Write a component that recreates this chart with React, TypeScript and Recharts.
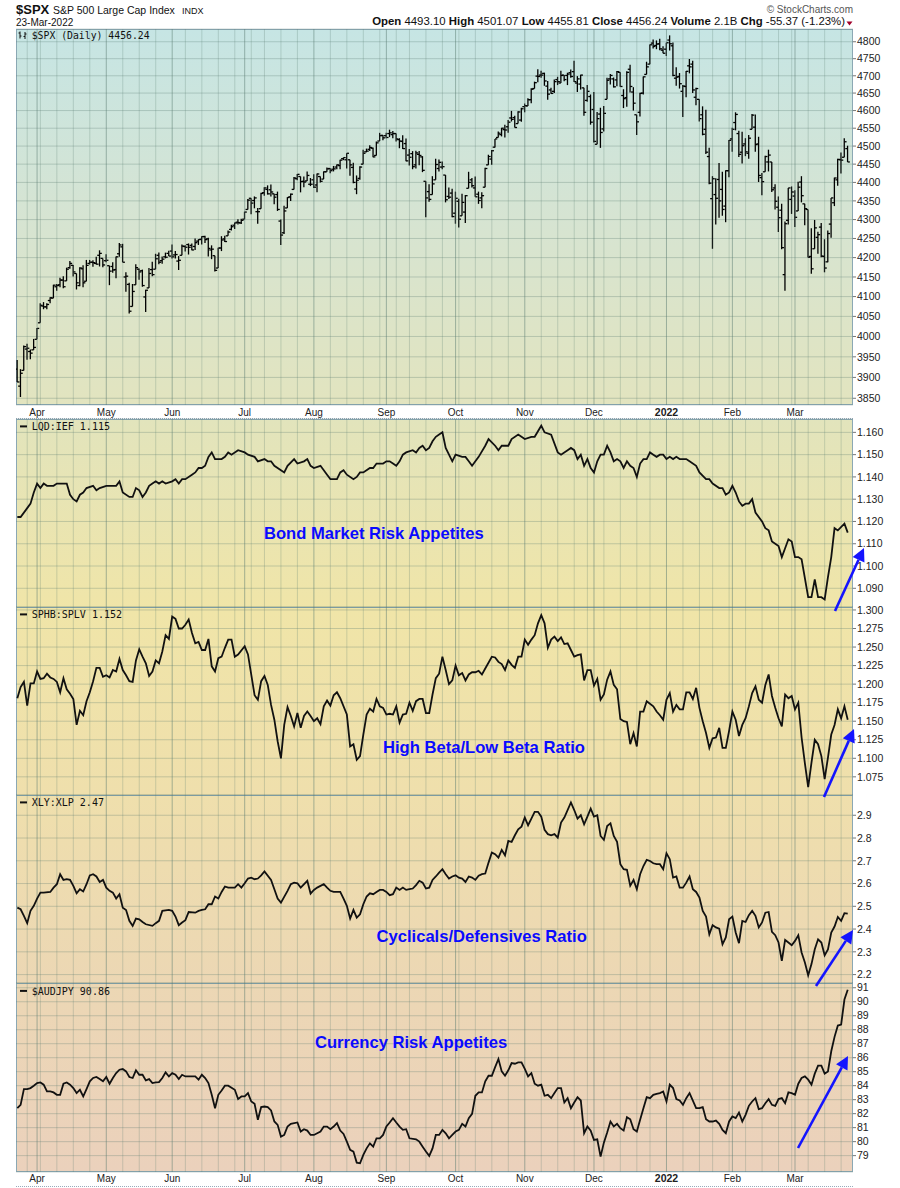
import React from "react";
import { ComposedChart, Bar, Line, XAxis, YAxis, CartesianGrid, ReferenceLine } from "recharts";

const FONT = "'Liberation Sans', Arial, sans-serif";
const MONO = "'DejaVu Sans Mono', monospace";
const GRID = "#587a70";

// trading calendar, 24-Mar-2021 .. 23-Mar-2022
const startDay = "2021-03-24";
const endDay = "2022-03-23";
const holidays = ["2021-04-02", "2021-05-31", "2021-07-05", "2021-09-06", "2021-11-25", "2021-12-24", "2022-01-17", "2022-02-21"];
const monthLabels = ["Apr", "May", "Jun", "Jul", "Aug", "Sep", "Oct", "Nov", "Dec", "2022", "Feb", "Mar"];

// $SPX daily bars, one row per month
const spxOpen = [
  3920, 3879, 3917, 3969, 3963, 3967,
  3993, 4034, 4076, 4074, 4090, 4096, 4125, 4130, 4142, 4140, 4174, 4180, 4159, 4128, 4171, 4139, 4185, 4188, 4185, 4206, 4198,
  4192, 4179, 4177, 4169, 4210, 4228, 4150, 4131, 4075, 4130, 4170, 4166, 4099, 4122, 4169, 4170, 4206, 4192, 4202, 4211,
  4217, 4207, 4191, 4206, 4229, 4234, 4232, 4229, 4243, 4248, 4255, 4249, 4220, 4205, 4173, 4225, 4249, 4257, 4274, 4285, 4293, 4291,
  4301, 4327, 4357, 4351, 4321, 4329, 4372, 4381, 4380, 4369, 4367, 4296, 4265, 4331, 4361, 4381, 4410, 4416, 4403, 4404, 4395,
  4407, 4393, 4416, 4409, 4429, 4438, 4436, 4442, 4446, 4465, 4462, 4462, 4441, 4382, 4411, 4450, 4484, 4491, 4494, 4474, 4514, 4530,
  4529, 4535, 4532, 4535, 4518, 4513, 4507, 4475, 4479, 4448, 4477, 4470, 4403, 4375, 4367, 4407, 4438, 4442, 4420, 4362, 4371,
  4317, 4349, 4310, 4320, 4384, 4407, 4385, 4368, 4358, 4387, 4448, 4464, 4497, 4524, 4532, 4546, 4554, 4579, 4580, 4563, 4573,
  4611, 4613, 4631, 4663, 4699, 4702, 4707, 4670, 4659, 4655, 4689, 4679, 4702, 4701, 4709, 4712, 4679, 4676, 4665, 4629, 4640,
  4603, 4505, 4590, 4548, 4632, 4691, 4691, 4688, 4710, 4643, 4637, 4719, 4653, 4588, 4595, 4650, 4704, 4734, 4796, 4789, 4794, 4775,
  4778, 4805, 4788, 4693, 4698, 4655, 4669, 4729, 4734, 4638, 4632, 4588, 4547, 4471, 4356, 4367, 4408, 4381, 4336, 4432,
  4520, 4566, 4535, 4483, 4506, 4480, 4547, 4553, 4506, 4413, 4429, 4456, 4456, 4385, 4333, 4325, 4156, 4298, 4354,
  4363, 4323, 4401, 4342, 4327, 4203, 4223, 4253, 4280, 4203, 4189, 4288, 4345, 4407, 4462, 4469, 4493,
];
const spxHigh = [
  3942, 3920, 3978, 3982, 3968, 3994,
  4021, 4083, 4086, 4083, 4098, 4130, 4132, 4148, 4152, 4174, 4191, 4181, 4159, 4175, 4180, 4194, 4194, 4193, 4202, 4219, 4198,
  4209, 4179, 4188, 4203, 4238, 4236, 4162, 4135, 4132, 4183, 4172, 4169, 4117, 4173, 4189, 4210, 4213, 4203, 4213, 4218,
  4234, 4217, 4204, 4234, 4232, 4237, 4237, 4250, 4248, 4256, 4257, 4252, 4232, 4205, 4226, 4256, 4257, 4271, 4286, 4292, 4301, 4302,
  4321, 4355, 4357, 4362, 4331, 4372, 4387, 4392, 4394, 4369, 4375, 4300, 4337, 4360, 4370, 4415, 4423, 4416, 4416, 4430, 4412,
  4422, 4424, 4416, 4430, 4441, 4439, 4445, 4449, 4462, 4468, 4480, 4462, 4454, 4419, 4444, 4490, 4493, 4502, 4496, 4513, 4537, 4531,
  4537, 4546, 4542, 4535, 4522, 4530, 4521, 4492, 4486, 4487, 4486, 4472, 4403, 4395, 4417, 4465, 4463, 4457, 4420, 4386, 4383,
  4375, 4356, 4369, 4366, 4429, 4412, 4416, 4375, 4373, 4440, 4476, 4489, 4520, 4541, 4551, 4560, 4573, 4599, 4585, 4598, 4608,
  4620, 4635, 4664, 4683, 4719, 4715, 4709, 4685, 4665, 4689, 4697, 4715, 4702, 4709, 4718, 4744, 4699, 4703, 4665, 4673, 4646,
  4653, 4596, 4608, 4613, 4694, 4705, 4695, 4714, 4710, 4661, 4713, 4732, 4667, 4588, 4651, 4698, 4741, 4792, 4807, 4804, 4809, 4787,
  4797, 4819, 4798, 4725, 4708, 4673, 4714, 4749, 4744, 4665, 4632, 4612, 4602, 4495, 4417, 4411, 4453, 4429, 4433, 4517,
  4551, 4595, 4543, 4540, 4522, 4531, 4590, 4589, 4526, 4426, 4473, 4490, 4456, 4395, 4362, 4342, 4295, 4385, 4389,
  4379, 4402, 4417, 4342, 4327, 4277, 4299, 4268, 4291, 4248, 4271, 4358, 4413, 4465, 4482, 4522, 4501,
];
const spxLow = [
  3889, 3853, 3917, 3943, 3944, 3967,
  3993, 4034, 4068, 4068, 4083, 4096, 4115, 4124, 4121, 4140, 4171, 4151, 4118, 4126, 4124, 4139, 4182, 4176, 4182, 4177, 4175,
  4188, 4129, 4161, 4147, 4202, 4188, 4112, 4057, 4075, 4130, 4143, 4125, 4061, 4122, 4152, 4170, 4183, 4184, 4198, 4204,
  4198, 4198, 4168, 4206, 4216, 4208, 4219, 4220, 4233, 4234, 4238, 4203, 4196, 4164, 4173, 4217, 4241, 4257, 4271, 4275, 4287, 4288,
  4301, 4327, 4314, 4330, 4289, 4329, 4364, 4367, 4362, 4341, 4323, 4233, 4262, 4331, 4350, 4381, 4406, 4373, 4387, 4404, 4390,
  4385, 4373, 4400, 4409, 4429, 4425, 4430, 4436, 4436, 4461, 4438, 4418, 4398, 4368, 4407, 4450, 4483, 4486, 4469, 4474, 4514, 4516,
  4522, 4525, 4522, 4513, 4494, 4492, 4458, 4446, 4436, 4438, 4447, 4428, 4306, 4348, 4367, 4407, 4430, 4436, 4346, 4355, 4306,
  4289, 4279, 4310, 4291, 4384, 4386, 4361, 4342, 4330, 4387, 4448, 4448, 4496, 4524, 4527, 4524, 4537, 4569, 4552, 4563, 4568,
  4595, 4613, 4621, 4663, 4681, 4694, 4671, 4631, 4648, 4650, 4673, 4679, 4684, 4673, 4694, 4682, 4653, 4660, 4585, 4625, 4560,
  4510, 4505, 4495, 4541, 4632, 4675, 4666, 4670, 4668, 4607, 4611, 4652, 4600, 4531, 4583, 4646, 4704, 4734, 4780, 4778, 4775, 4766,
  4758, 4774, 4699, 4671, 4663, 4582, 4638, 4707, 4650, 4615, 4569, 4530, 4478, 4395, 4223, 4287, 4305, 4310, 4293, 4414,
  4484, 4544, 4470, 4452, 4472, 4465, 4547, 4484, 4401, 4365, 4429, 4430, 4374, 4327, 4267, 4222, 4115, 4287, 4315,
  4280, 4323, 4346, 4285, 4200, 4158, 4223, 4210, 4201, 4162, 4188, 4252, 4336, 4391, 4424, 4469, 4456,
];
const spxClose = [
  3889, 3910, 3975, 3971, 3959, 3973,
  4020, 4078, 4074, 4080, 4097, 4129, 4128, 4142, 4125, 4170, 4185, 4163, 4135, 4173, 4135, 4180, 4188, 4187, 4183, 4211, 4181,
  4193, 4165, 4168, 4202, 4233, 4188, 4152, 4063, 4113, 4174, 4163, 4128, 4116, 4159, 4156, 4197, 4188, 4196, 4201, 4204,
  4202, 4208, 4193, 4230, 4227, 4227, 4220, 4239, 4247, 4255, 4247, 4224, 4222, 4167, 4225, 4246, 4242, 4267, 4281, 4291, 4292, 4298,
  4320, 4352, 4344, 4358, 4321, 4370, 4385, 4369, 4374, 4360, 4327, 4259, 4323, 4359, 4368, 4412, 4422, 4402, 4401, 4419, 4395,
  4387, 4423, 4403, 4429, 4437, 4432, 4437, 4448, 4461, 4468, 4480, 4448, 4400, 4406, 4442, 4480, 4486, 4496, 4470, 4509, 4529, 4523,
  4524, 4537, 4535, 4520, 4514, 4493, 4459, 4469, 4443, 4481, 4474, 4433, 4358, 4354, 4396, 4449, 4455, 4443, 4353, 4360, 4308,
  4357, 4301, 4346, 4364, 4400, 4391, 4361, 4351, 4364, 4438, 4471, 4487, 4520, 4536, 4550, 4545, 4567, 4575, 4552, 4596, 4605,
  4614, 4631, 4661, 4680, 4698, 4702, 4685, 4647, 4649, 4683, 4683, 4701, 4689, 4705, 4698, 4683, 4691, 4702, 4595, 4655, 4567,
  4513, 4577, 4538, 4592, 4687, 4701, 4668, 4712, 4669, 4634, 4710, 4669, 4621, 4568, 4649, 4697, 4726, 4791, 4786, 4793, 4779, 4766,
  4797, 4794, 4701, 4696, 4677, 4670, 4713, 4726, 4659, 4663, 4577, 4533, 4483, 4398, 4410, 4357, 4350, 4327, 4432, 4516,
  4547, 4589, 4477, 4501, 4484, 4522, 4587, 4504, 4419, 4402, 4471, 4475, 4380, 4349, 4305, 4226, 4289, 4385, 4374,
  4306, 4387, 4364, 4329, 4201, 4171, 4278, 4260, 4204, 4173, 4263, 4358, 4412, 4463, 4461, 4512, 4456,
];

// ratio panels: [trading day index, value]
const lqdIef: [number, number][] = [
  [0, 1.122], [1, 1.122], [3, 1.126], [4, 1.128], [5, 1.133], [6, 1.137], [7, 1.135], [8, 1.137], [9, 1.136], [11, 1.136], [12, 1.137], [14, 1.137],
  [15, 1.137], [16, 1.132], [17, 1.130], [18, 1.129], [19, 1.132], [20, 1.133], [21, 1.135], [23, 1.136], [24, 1.134], [25, 1.135], [27, 1.136],
  [28, 1.136], [30, 1.136], [31, 1.138], [32, 1.133], [34, 1.131], [35, 1.131], [36, 1.135], [37, 1.134], [38, 1.131], [39, 1.133], [40, 1.136],
  [41, 1.137], [42, 1.138], [43, 1.137], [44, 1.138], [45, 1.137], [47, 1.138], [48, 1.139], [49, 1.137], [50, 1.139], [51, 1.139], [53, 1.141],
  [54, 1.142], [55, 1.144], [56, 1.144], [57, 1.145], [58, 1.149], [59, 1.151], [60, 1.148], [62, 1.148], [63, 1.149], [64, 1.151], [65, 1.150],
  [67, 1.152], [69, 1.151], [70, 1.150], [72, 1.149], [73, 1.147], [75, 1.148], [76, 1.147], [77, 1.147], [78, 1.145], [80, 1.143], [81, 1.142],
  [82, 1.145], [84, 1.148], [85, 1.146], [87, 1.147], [88, 1.148], [89, 1.145], [90, 1.144], [92, 1.145], [93, 1.143], [94, 1.141], [95, 1.139],
  [97, 1.139], [98, 1.142], [99, 1.143], [100, 1.141], [102, 1.139], [103, 1.140], [104, 1.142], [105, 1.142], [107, 1.144], [108, 1.144],
  [109, 1.146], [111, 1.146], [112, 1.147], [113, 1.147], [114, 1.146], [115, 1.145], [116, 1.147], [117, 1.150], [118, 1.151], [120, 1.152],
  [121, 1.151], [122, 1.153], [123, 1.154], [124, 1.152], [125, 1.153], [126, 1.156], [127, 1.158], [128, 1.159], [129, 1.160], [130, 1.153],
  [131, 1.150], [132, 1.147], [133, 1.150], [135, 1.149], [136, 1.149], [137, 1.147], [138, 1.145], [139, 1.147], [140, 1.149], [142, 1.154],
  [143, 1.157], [145, 1.154], [146, 1.152], [147, 1.154], [149, 1.154], [150, 1.157], [152, 1.159], [153, 1.158], [154, 1.157], [156, 1.158],
  [157, 1.158], [159, 1.163], [160, 1.160], [162, 1.159], [164, 1.151], [165, 1.150], [167, 1.152], [168, 1.153], [169, 1.152], [170, 1.148],
  [171, 1.150], [172, 1.145], [173, 1.148], [174, 1.144], [175, 1.142], [176, 1.147], [177, 1.150], [178, 1.150], [179, 1.154], [180, 1.151],
  [181, 1.147], [182, 1.148], [183, 1.147], [184, 1.144], [185, 1.147], [186, 1.145], [187, 1.144], [188, 1.140], [189, 1.146], [190, 1.148],
  [191, 1.148], [192, 1.151], [193, 1.150], [194, 1.149], [195, 1.150], [196, 1.150], [197, 1.148], [198, 1.149], [199, 1.148], [200, 1.149],
  [201, 1.148], [203, 1.148], [204, 1.147], [206, 1.145], [207, 1.142], [209, 1.139], [210, 1.139], [211, 1.137], [213, 1.135], [214, 1.135],
  [215, 1.132], [216, 1.133], [217, 1.136], [218, 1.133], [219, 1.129], [220, 1.127], [221, 1.128], [222, 1.128], [223, 1.130], [224, 1.124],
  [226, 1.120], [227, 1.117], [228, 1.116], [229, 1.111], [230, 1.110], [231, 1.109], [232, 1.104], [233, 1.108], [234, 1.112], [235, 1.111],
  [236, 1.104], [237, 1.104], [238, 1.103], [240, 1.086], [241, 1.086], [242, 1.094], [243, 1.086], [244, 1.086], [245, 1.085], [246, 1.095],
  [247, 1.104], [248, 1.117], [249, 1.116], [251, 1.119], [252, 1.115],
];
const sphbSplv: [number, number][] = [
  [0, 1.181], [1, 1.196], [2, 1.203], [3, 1.171], [4, 1.201], [5, 1.201], [6, 1.217], [7, 1.207], [8, 1.208], [9, 1.214], [10, 1.209], [11, 1.207],
  [12, 1.203], [13, 1.189], [14, 1.208], [15, 1.193], [16, 1.187], [17, 1.180], [18, 1.145], [19, 1.164], [20, 1.158], [21, 1.177], [22, 1.189],
  [23, 1.204], [24, 1.222], [25, 1.222], [26, 1.210], [27, 1.212], [28, 1.209], [29, 1.219], [30, 1.217], [31, 1.234], [32, 1.219], [33, 1.212],
  [34, 1.204], [35, 1.203], [36, 1.232], [37, 1.247], [38, 1.237], [39, 1.228], [40, 1.211], [41, 1.217], [42, 1.232], [43, 1.228], [44, 1.244],
  [45, 1.266], [46, 1.261], [47, 1.291], [48, 1.288], [49, 1.275], [50, 1.275], [51, 1.280], [52, 1.287], [53, 1.269], [54, 1.255], [55, 1.257],
  [56, 1.246], [57, 1.246], [58, 1.261], [59, 1.224], [60, 1.217], [61, 1.235], [62, 1.237], [63, 1.249], [64, 1.260], [65, 1.260], [66, 1.237],
  [67, 1.240], [69, 1.251], [70, 1.240], [72, 1.185], [73, 1.179], [74, 1.204], [75, 1.211], [76, 1.199], [77, 1.172], [78, 1.152], [79, 1.123],
  [80, 1.100], [81, 1.145], [82, 1.169], [83, 1.157], [84, 1.143], [85, 1.161], [86, 1.141], [87, 1.157], [88, 1.163], [89, 1.157], [90, 1.150],
  [91, 1.154], [92, 1.146], [93, 1.170], [94, 1.178], [95, 1.171], [96, 1.185], [97, 1.189], [98, 1.181], [100, 1.159], [101, 1.116], [102, 1.119],
  [103, 1.098], [104, 1.103], [105, 1.132], [106, 1.159], [107, 1.167], [108, 1.163], [109, 1.180], [110, 1.170], [111, 1.168], [112, 1.159],
  [113, 1.160], [114, 1.159], [115, 1.170], [116, 1.148], [117, 1.159], [118, 1.160], [119, 1.175], [120, 1.164], [121, 1.177], [122, 1.180],
  [123, 1.180], [124, 1.161], [125, 1.161], [126, 1.186], [127, 1.208], [128, 1.214], [129, 1.237], [130, 1.219], [131, 1.200], [132, 1.205],
  [133, 1.225], [134, 1.212], [135, 1.215], [136, 1.205], [137, 1.213], [138, 1.216], [139, 1.216], [140, 1.218], [141, 1.213], [142, 1.221],
  [144, 1.237], [145, 1.236], [146, 1.230], [147, 1.227], [148, 1.219], [149, 1.232], [150, 1.226], [151, 1.222], [152, 1.237], [153, 1.237],
  [154, 1.260], [155, 1.253], [156, 1.260], [157, 1.266], [158, 1.282], [159, 1.293], [160, 1.282], [161, 1.249], [162, 1.260], [163, 1.264],
  [164, 1.258], [165, 1.263], [166, 1.254], [167, 1.255], [168, 1.246], [169, 1.237], [170, 1.239], [171, 1.240], [172, 1.205], [173, 1.219],
  [174, 1.219], [175, 1.198], [176, 1.207], [177, 1.179], [178, 1.186], [179, 1.206], [180, 1.217], [181, 1.199], [182, 1.193], [183, 1.153],
  [184, 1.150], [185, 1.149], [186, 1.119], [187, 1.134], [188, 1.116], [189, 1.163], [190, 1.163], [191, 1.177], [193, 1.170], [194, 1.163],
  [195, 1.158], [196, 1.152], [197, 1.179], [198, 1.188], [199, 1.163], [200, 1.172], [201, 1.166], [202, 1.166], [203, 1.189], [204, 1.189],
  [205, 1.180], [206, 1.195], [207, 1.168], [208, 1.150], [209, 1.134], [210, 1.114], [211, 1.127], [212, 1.128], [213, 1.141], [214, 1.114],
  [215, 1.114], [216, 1.137], [217, 1.163], [218, 1.152], [219, 1.130], [220, 1.145], [221, 1.154], [222, 1.170], [223, 1.188], [224, 1.197],
  [225, 1.179], [226, 1.175], [227, 1.199], [228, 1.213], [229, 1.184], [230, 1.168], [231, 1.154], [232, 1.143], [233, 1.186], [234, 1.181],
  [235, 1.184], [236, 1.166], [237, 1.175], [238, 1.128], [239, 1.093], [240, 1.061], [241, 1.094], [242, 1.125], [243, 1.119], [244, 1.103],
  [245, 1.072], [246, 1.101], [247, 1.132], [248, 1.145], [249, 1.166], [250, 1.154], [251, 1.170], [252, 1.152],
];
const xlyXlp: [number, number][] = [
  [0, 2.494], [1, 2.487], [2, 2.458], [3, 2.426], [4, 2.480], [5, 2.502], [6, 2.534], [7, 2.560], [8, 2.560], [10, 2.563], [11, 2.582], [12, 2.597],
  [13, 2.641], [14, 2.616], [15, 2.619], [16, 2.616], [17, 2.590], [18, 2.557], [19, 2.575], [20, 2.565], [21, 2.597], [22, 2.636], [23, 2.641],
  [24, 2.631], [25, 2.607], [26, 2.616], [27, 2.582], [28, 2.568], [29, 2.560], [30, 2.534], [31, 2.553], [32, 2.494], [33, 2.484], [34, 2.436],
  [35, 2.414], [36, 2.446], [37, 2.443], [38, 2.431], [39, 2.421], [41, 2.414], [42, 2.426], [43, 2.436], [44, 2.480], [46, 2.484], [47, 2.480],
  [48, 2.455], [49, 2.417], [50, 2.429], [51, 2.439], [52, 2.475], [54, 2.472], [55, 2.480], [56, 2.484], [57, 2.487], [58, 2.509], [59, 2.509],
  [60, 2.543], [61, 2.534], [62, 2.563], [63, 2.587], [64, 2.582], [66, 2.582], [67, 2.597], [68, 2.582], [69, 2.601], [70, 2.622], [71, 2.626],
  [72, 2.619], [73, 2.622], [74, 2.636], [75, 2.653], [77, 2.616], [78, 2.575], [79, 2.534], [80, 2.516], [82, 2.568], [83, 2.597], [84, 2.604],
  [85, 2.601], [86, 2.582], [88, 2.612], [89, 2.556], [90, 2.572], [91, 2.582], [93, 2.597], [94, 2.582], [95, 2.568], [96, 2.563], [98, 2.563],
  [99, 2.534], [100, 2.502], [101, 2.446], [102, 2.484], [103, 2.450], [104, 2.465], [105, 2.509], [106, 2.543], [107, 2.557], [108, 2.553],
  [109, 2.563], [110, 2.572], [111, 2.572], [112, 2.563], [113, 2.549], [114, 2.553], [115, 2.582], [116, 2.572], [117, 2.582], [118, 2.572],
  [119, 2.575], [120, 2.578], [121, 2.593], [122, 2.612], [123, 2.604], [124, 2.578], [125, 2.582], [126, 2.616], [127, 2.631], [128, 2.648],
  [129, 2.663], [130, 2.641], [131, 2.622], [132, 2.631], [133, 2.636], [134, 2.626], [135, 2.622], [136, 2.607], [137, 2.631], [138, 2.626],
  [139, 2.616], [140, 2.634], [141, 2.641], [142, 2.644], [143, 2.692], [144, 2.736], [145, 2.729], [146, 2.714], [147, 2.748], [148, 2.724],
  [149, 2.787], [150, 2.783], [151, 2.812], [152, 2.838], [153, 2.850], [154, 2.890], [155, 2.856], [156, 2.885], [157, 2.915], [158, 2.915],
  [159, 2.894], [160, 2.836], [161, 2.817], [162, 2.812], [163, 2.817], [164, 2.802], [165, 2.868], [166, 2.890], [168, 2.956], [169, 2.923],
  [170, 2.885], [171, 2.900], [172, 2.860], [173, 2.894], [174, 2.929], [175, 2.894], [176, 2.900], [177, 2.809], [178, 2.792], [179, 2.853],
  [180, 2.865], [181, 2.809], [182, 2.783], [183, 2.685], [184, 2.663], [185, 2.660], [186, 2.590], [187, 2.616], [188, 2.575], [189, 2.641],
  [190, 2.677], [191, 2.704], [192, 2.699], [193, 2.689], [194, 2.685], [195, 2.685], [196, 2.663], [197, 2.733], [198, 2.707], [199, 2.626],
  [200, 2.631], [201, 2.582], [202, 2.582], [203, 2.604], [204, 2.631], [205, 2.575], [206, 2.563], [207, 2.538], [208, 2.480], [209, 2.455],
  [210, 2.377], [211, 2.417], [212, 2.407], [213, 2.402], [214, 2.333], [215, 2.363], [216, 2.443], [217, 2.455], [218, 2.385], [219, 2.338],
  [220, 2.436], [221, 2.431], [222, 2.461], [223, 2.480], [224, 2.458], [225, 2.407], [226, 2.429], [227, 2.472], [228, 2.475], [229, 2.388],
  [230, 2.373], [231, 2.341], [232, 2.260], [233, 2.352], [234, 2.341], [235, 2.329], [236, 2.348], [237, 2.373], [238, 2.297], [239, 2.253],
  [240, 2.197], [241, 2.246], [242, 2.311], [243, 2.355], [244, 2.341], [245, 2.285], [246, 2.311], [247, 2.385], [248, 2.411], [249, 2.453],
  [250, 2.436], [251, 2.470], [252, 2.468],
];
const audJpy: [number, number][] = [
  [0, 82.39], [1, 82.63], [2, 83.76], [3, 83.76], [4, 83.83], [5, 84.0], [6, 84.19], [7, 84.23], [8, 84.07], [9, 83.59], [10, 83.59], [11, 83.52],
  [12, 83.35], [13, 83.35], [14, 84.14], [15, 84.23], [16, 84.07], [17, 83.83], [18, 83.47], [19, 83.71], [20, 83.23], [21, 83.76], [22, 84.31],
  [23, 84.55], [24, 84.62], [25, 84.47], [26, 84.31], [27, 84.62], [28, 84.14], [29, 84.55], [30, 84.9], [31, 85.14], [32, 85.19], [33, 85.02],
  [34, 84.62], [35, 84.55], [36, 85.1], [37, 84.78], [38, 84.78], [39, 84.38], [40, 84.47], [41, 84.19], [42, 84.23], [43, 84.26], [44, 84.55],
  [45, 84.95], [46, 84.66], [47, 84.9], [48, 84.78], [49, 84.47], [50, 84.78], [51, 84.66], [52, 84.66], [53, 84.66], [54, 84.66], [55, 84.43],
  [56, 84.78], [57, 84.55], [58, 84.19], [59, 83.35], [60, 82.39], [61, 83.35], [62, 83.66], [63, 84.0], [64, 84.0], [66, 83.71], [67, 83.04],
  [68, 83.23], [69, 83.23], [70, 83.47], [71, 82.87], [72, 82.7], [73, 81.56], [74, 82.47], [75, 82.51], [76, 82.47], [77, 82.23], [78, 81.44],
  [79, 81.2], [80, 80.36], [81, 80.48], [82, 81.08], [83, 81.27], [85, 81.37], [86, 80.72], [87, 80.89], [88, 80.79], [89, 80.48], [90, 80.48],
  [92, 80.72], [93, 81.08], [94, 81.08], [95, 80.89], [96, 81.08], [97, 81.32], [98, 80.79], [99, 80.55], [100, 80.0], [101, 79.41], [102, 79.29],
  [103, 78.5], [104, 78.45], [105, 79.05], [106, 79.52], [107, 79.88], [108, 79.64], [109, 80.24], [110, 80.24], [111, 80.48], [112, 81.08],
  [113, 81.37], [114, 81.68], [115, 81.37], [116, 81.08], [117, 80.84], [118, 80.89], [119, 80.24], [121, 80.17], [122, 80.0], [123, 79.64],
  [124, 79.29], [125, 78.98], [126, 79.52], [127, 80.48], [128, 80.48], [129, 80.84], [130, 80.6], [131, 80.24], [132, 80.48], [133, 80.72],
  [134, 80.84], [135, 81.27], [136, 81.08], [137, 81.68], [138, 81.99], [139, 83.28], [140, 83.52], [141, 83.52], [142, 84.31], [143, 84.71],
  [144, 84.71], [145, 85.33], [146, 85.91], [147, 85.02], [148, 84.71], [149, 85.1], [150, 85.62], [151, 85.57], [152, 85.67], [153, 85.67],
  [154, 85.2], [155, 84.66], [156, 84.9], [157, 84.14], [158, 84.0], [159, 84.07], [160, 83.28], [161, 83.35], [162, 83.11], [163, 83.47],
  [164, 83.83], [165, 83.83], [166, 82.8], [167, 83.11], [168, 82.39], [169, 82.8], [170, 83.18], [171, 82.94], [172, 80.6], [173, 81.08],
  [174, 80.79], [175, 80.12], [176, 80.17], [177, 78.93], [178, 79.93], [179, 80.65], [180, 81.44], [181, 81.08], [182, 81.27], [183, 80.96],
  [184, 80.79], [185, 81.75], [186, 81.6], [187, 80.89], [188, 80.72], [189, 81.56], [190, 82.39], [191, 83.18], [192, 83.11], [193, 83.35],
  [194, 83.42], [195, 83.47], [196, 83.59], [197, 82.87], [198, 84.07], [199, 83.83], [200, 83.04], [201, 82.94], [202, 82.63], [203, 83.11],
  [204, 83.47], [205, 82.94], [206, 82.39], [207, 82.39], [208, 82.47], [209, 81.6], [210, 81.44], [211, 81.44], [212, 81.51], [213, 81.27],
  [214, 80.84], [215, 80.6], [216, 81.44], [217, 81.8], [218, 81.68], [219, 82.08], [220, 81.44], [221, 81.92], [222, 82.56], [223, 82.87],
  [224, 83.11], [225, 82.32], [226, 82.39], [227, 82.75], [228, 83.04], [229, 82.63], [230, 82.56], [231, 83.04], [232, 83.11], [233, 82.75],
  [234, 83.52], [235, 83.47], [236, 83.35], [237, 84.14], [238, 84.55], [239, 84.66], [240, 84.43], [241, 84.07], [242, 84.86], [243, 85.43],
  [244, 85.43], [245, 84.86], [246, 85.02], [247, 86.46], [248, 87.49], [249, 88.3], [250, 88.37], [251, 90.16], [252, 90.86],
];

const spxTicks = [3850, 3900, 3950, 4000, 4050, 4100, 4150, 4200, 4250, 4300, 4350, 4400, 4450, 4500, 4550, 4600, 4650, 4700, 4750, 4800];
const lqdTicks = [1.09, 1.1, 1.11, 1.12, 1.13, 1.14, 1.15, 1.16];
const sphbTicks = [1.075, 1.1, 1.125, 1.15, 1.175, 1.2, 1.225, 1.25, 1.275, 1.3];
const xlyTicks = [2.2, 2.3, 2.4, 2.5, 2.6, 2.7, 2.8, 2.9];
const audTicks = [79, 80, 81, 82, 83, 84, 85, 86, 87, 88, 89, 90, 91];

function buildDays() {
  const out: { m: number; dow: number }[] = [];
  const d = new Date(startDay + "T00:00:00Z");
  const end = new Date(endDay + "T00:00:00Z");
  while (d <= end) {
    const iso = d.toISOString().slice(0, 10);
    const dow = d.getUTCDay();
    if (dow !== 0 && dow !== 6 && !holidays.includes(iso)) out.push({ m: d.getUTCMonth(), dow });
    d.setUTCDate(d.getUTCDate() + 1);
  }
  return out;
}
const days = buildDays();
const monthStarts = days.map((d, i) => (i > 0 && d.m !== days[i - 1].m ? i : -1)).filter((i) => i >= 0);
const weekStarts = days
  .map((d, i) => (i > 0 && d.dow <= days[i - 1].dow ? i : -1))
  .filter((i) => i >= 0 && !monthStarts.includes(i));

const X_DOMAIN: [number, number] = [-0.4, 253.6];
const MARGIN = { top: 0, right: 2, bottom: 0, left: 16 };

const spxRows = days.map((_, i) => ({
  i,
  range: [spxLow[i], spxHigh[i]],
  o: spxOpen[i],
  h: spxHigh[i],
  l: spxLow[i],
  c: spxClose[i],
}));
const toRows = (pts: [number, number][]) => pts.map(([i, v]) => ({ i, v }));

const OhlcShape = (props: any) => {
  const { x, y, width, height, payload } = props;
  if (x == null || !payload) return null;
  const cx = x + width / 2;
  const top = Math.min(y, y + height);
  const h = Math.abs(height);
  const lh = Math.log(payload.h);
  const ll = Math.log(payload.l);
  const at = (v: number) => (lh === ll ? top : top + (h * (lh - Math.log(v))) / (lh - ll));
  return (
    <g stroke="#000" strokeWidth={1.3}>
      <line x1={cx} x2={cx} y1={top} y2={top + Math.max(h, 1)} />
      <line x1={cx - 2.3} x2={cx} y1={at(payload.o)} y2={at(payload.o)} />
      <line x1={cx} x2={cx + 2.3} y1={at(payload.c)} y2={at(payload.c)} />
    </g>
  );
};

const MonthTick = (props: any) => {
  const { x, y, payload, offsetY } = props;
  const label = monthLabels[monthStarts.indexOf(payload.value)] ?? "";
  const bold = label === "2022";
  return (
    <text x={x} y={y + offsetY} textAnchor="middle" fontSize={bold ? 10.5 : 10} fontWeight={bold ? 700 : 400} fontFamily={FONT} fill="#222">
      {label}
    </text>
  );
};

type PanelProps = {
  top: number;
  height: number;
  axisHeight?: number;
  labelOffset?: number;
  rows: any[];
  domain: [number, number];
  ticks: number[];
  fmt: (v: number) => string;
  log?: boolean;
  children: React.ReactNode;
};

function Panel({ top, height, axisHeight = 0, labelOffset = 11, rows, domain, ticks, fmt, log, children }: PanelProps) {
  return (
    <div style={{ position: "absolute", left: 0, top }}>
      <ComposedChart width={900} height={height + axisHeight} data={rows} margin={MARGIN}>
        <CartesianGrid vertical={false} stroke={GRID} strokeOpacity={0.3} />
        {weekStarts.map((i) => (
          <ReferenceLine key={"w" + i} x={i} stroke={GRID} strokeOpacity={0.26} />
        ))}
        {monthStarts.map((i) => (
          <ReferenceLine key={"m" + i} x={i} stroke={GRID} strokeOpacity={0.5} />
        ))}
        <XAxis
          type="number"
          dataKey="i"
          domain={X_DOMAIN}
          allowDataOverflow
          ticks={monthStarts}
          interval={0}
          hide={!axisHeight}
          height={axisHeight || 1}
          tickLine={false}
          axisLine={false}
          tickSize={0}
          tickMargin={0}
          tick={<MonthTick offsetY={labelOffset} />}
        />
        <YAxis
          orientation="right"
          width={45}
          type="number"
          scale={log ? "log" : "linear"}
          domain={domain}
          allowDataOverflow
          ticks={ticks}
          interval={0}
          tickFormatter={fmt}
          axisLine={false}
          tickSize={3}
          tickMargin={1}
          tickLine={{ stroke: "#777" }}
          tick={{ fontSize: 10.5, fill: "#222", fontFamily: FONT }}
        />
        {children}
      </ComposedChart>
    </div>
  );
}

const ratioLine = (
  <Line type="linear" dataKey="v" stroke="#111" strokeWidth={1.8} dot={false} activeDot={false} isAnimationActive={false} />
);

const arrows = [
  [835, 611, 864, 548],
  [824, 797, 854, 729],
  [816, 986, 853, 930],
  [798, 1148, 848, 1056],
];

function Arrow({ a }: { a: number[] }) {
  const [x1, y1, x2, y2] = a;
  const len = Math.hypot(x2 - x1, y2 - y1);
  const ux = (x2 - x1) / len;
  const uy = (y2 - y1) / len;
  const hl = 13;
  const hw = 6.5;
  const bx = x2 - ux * hl;
  const by = y2 - uy * hl;
  const pts = `${x2},${y2} ${bx - uy * hw},${by + ux * hw} ${bx + uy * hw},${by - ux * hw}`;
  return (
    <g>
      <line x1={x1} y1={y1} x2={bx} y2={by} stroke="#1414ff" strokeWidth={2.6} />
      <polygon points={pts} fill="#1414ff" />
    </g>
  );
}

const notes = [
  { text: "Bond Market Risk Appetites", x: 264, y: 539 },
  { text: "High Beta/Low Beta Ratio", x: 383, y: 753 },
  { text: "Cyclicals/Defensives Ratio", x: 376.5, y: 942 },
  { text: "Currency Risk Appetites", x: 315, y: 1048 },
];

const legends = [
  { text: "LQD:IEF 1.115", y: 430 },
  { text: "SPHB:SPLV 1.152", y: 618 },
  { text: "XLY:XLP 2.47", y: 806 },
  { text: "$AUDJPY 90.86", y: 994.5 },
];

export default function App() {
  const border = "#8ba8b4";
  return (
    <div style={{ position: "absolute", left: 0, top: 0, width: 900, height: 1188, background: "#fff", overflow: "hidden", fontFamily: FONT }}>
      <style>{`.recharts-surface{overflow:visible}.recharts-wrapper{overflow:visible}`}</style>
      <div
        style={{
          position: "absolute", left: 16, top: 29, width: 837, height: 376, boxSizing: "border-box",
          border: `1px solid ${border}`, background: "linear-gradient(#c6e5e4, #d6e4d2 50%, #e2e4bf)",
        }}
      />
      <div
        style={{
          position: "absolute", left: 16, top: 419, width: 837, height: 753, boxSizing: "border-box",
          border: `1px solid ${border}`,
          background: "linear-gradient(#e2e4bc, #f0e5a8 25%, #efdfac 50%, #ecd7b4 75%, #ebd1bc)",
        }}
      />
      {[607, 795, 983].map((y) => (
        <div key={y} style={{ position: "absolute", left: 16, top: y, width: 837, height: 1, background: border }} />
      ))}
      <div style={{ position: "absolute", left: 16, top: 418, width: 837, borderTop: "1px dotted #9ab" }} />
      <div style={{ position: "absolute", left: 16, top: 1186, width: 837, borderTop: "1px dotted #9ab" }} />

      <Panel top={29} height={376} axisHeight={14} labelOffset={11} rows={spxRows} domain={[3834, 4838]} ticks={spxTicks} fmt={(v) => String(v)} log>
        <Bar dataKey="range" barSize={5} shape={(p: any) => <OhlcShape {...p} />} isAnimationActive={false} />
      </Panel>
      <Panel top={419} height={188} rows={toRows(lqdIef)} domain={[1.0816, 1.166]} ticks={lqdTicks} fmt={(v) => v.toFixed(3)}>
        {ratioLine}
      </Panel>
      <Panel top={607} height={188} rows={toRows(sphbSplv)} domain={[1.0505, 1.304]} ticks={sphbTicks} fmt={(v) => v.toFixed(3)}>
        {ratioLine}
      </Panel>
      <Panel top={795} height={188} rows={toRows(xlyXlp)} domain={[2.163, 2.989]} ticks={xlyTicks} fmt={(v) => v.toFixed(1)}>
        {ratioLine}
      </Panel>
      <Panel top={983} height={189} axisHeight={16} labelOffset={10} rows={toRows(audJpy)} domain={[77.83, 91.34]} ticks={audTicks} fmt={(v) => String(v)}>
        {ratioLine}
      </Panel>

      <svg width={900} height={1188} style={{ position: "absolute", left: 0, top: 0, pointerEvents: "none" }}>
        <text x={16} y={14} fontSize={13} fontWeight={700} fill="#111">$SPX</text>
        <text x={53} y={13.5} fontSize={10.5} fill="#111">S&amp;P 500 Large Cap Index</text>
        <text x={182} y={13.5} fontSize={9} fill="#111">INDX</text>
        <text x={16} y={25.7} fontSize={10} fill="#111">23-Mar-2022</text>
        <text x={853} y={12.7} fontSize={10} textAnchor="end" fill="#555">© StockCharts.com</text>
        <text x={845} y={25.3} fontSize={11.4} textAnchor="end" fill="#111">
          <tspan fontWeight={700}>Open</tspan> 4493.10 <tspan fontWeight={700}>High</tspan> 4501.07{" "}
          <tspan fontWeight={700}>Low</tspan> 4455.81 <tspan fontWeight={700}>Close</tspan> 4456.24{" "}
          <tspan fontWeight={700}>Volume</tspan> 2.1B <tspan fontWeight={700}>Chg</tspan> -55.37 (-1.23%)
        </text>
        <polygon points="846.5,21.5 852.5,21.5 849.5,25.5" fill="#a0002a" />

        <g stroke="#111" strokeWidth={1}>
          <line x1={20} y1={31.5} x2={20} y2={38.5} />
          <line x1={18.5} y1={33} x2={20} y2={33} />
          <line x1={20} y1={36} x2={21.5} y2={36} />
          <line x1={25} y1={32} x2={25} y2={39} />
          <line x1={23.5} y1={36.5} x2={25} y2={36.5} />
          <line x1={25} y1={34} x2={26.5} y2={34} />
        </g>
        <text x={31.7} y={39} fontSize={9.8} fontFamily={MONO} fill="#111">$SPX (Daily) 4456.24</text>
        {legends.map((l) => (
          <g key={l.text}>
            <line x1={20} x2={27} y1={l.y - 3.6} y2={l.y - 3.6} stroke="#111" strokeWidth={2} />
            <text x={31.7} y={l.y} fontSize={10} fontFamily={MONO} fill="#111">{l.text}</text>
          </g>
        ))}

        {notes.map((n) => (
          <text key={n.text} x={n.x} y={n.y} fontSize={16.6} fontWeight={700} fill="#0a0aff" fontFamily={FONT}>
            {n.text}
          </text>
        ))}
        {arrows.map((a, k) => (
          <Arrow key={k} a={a} />
        ))}
      </svg>
    </div>
  );
}
